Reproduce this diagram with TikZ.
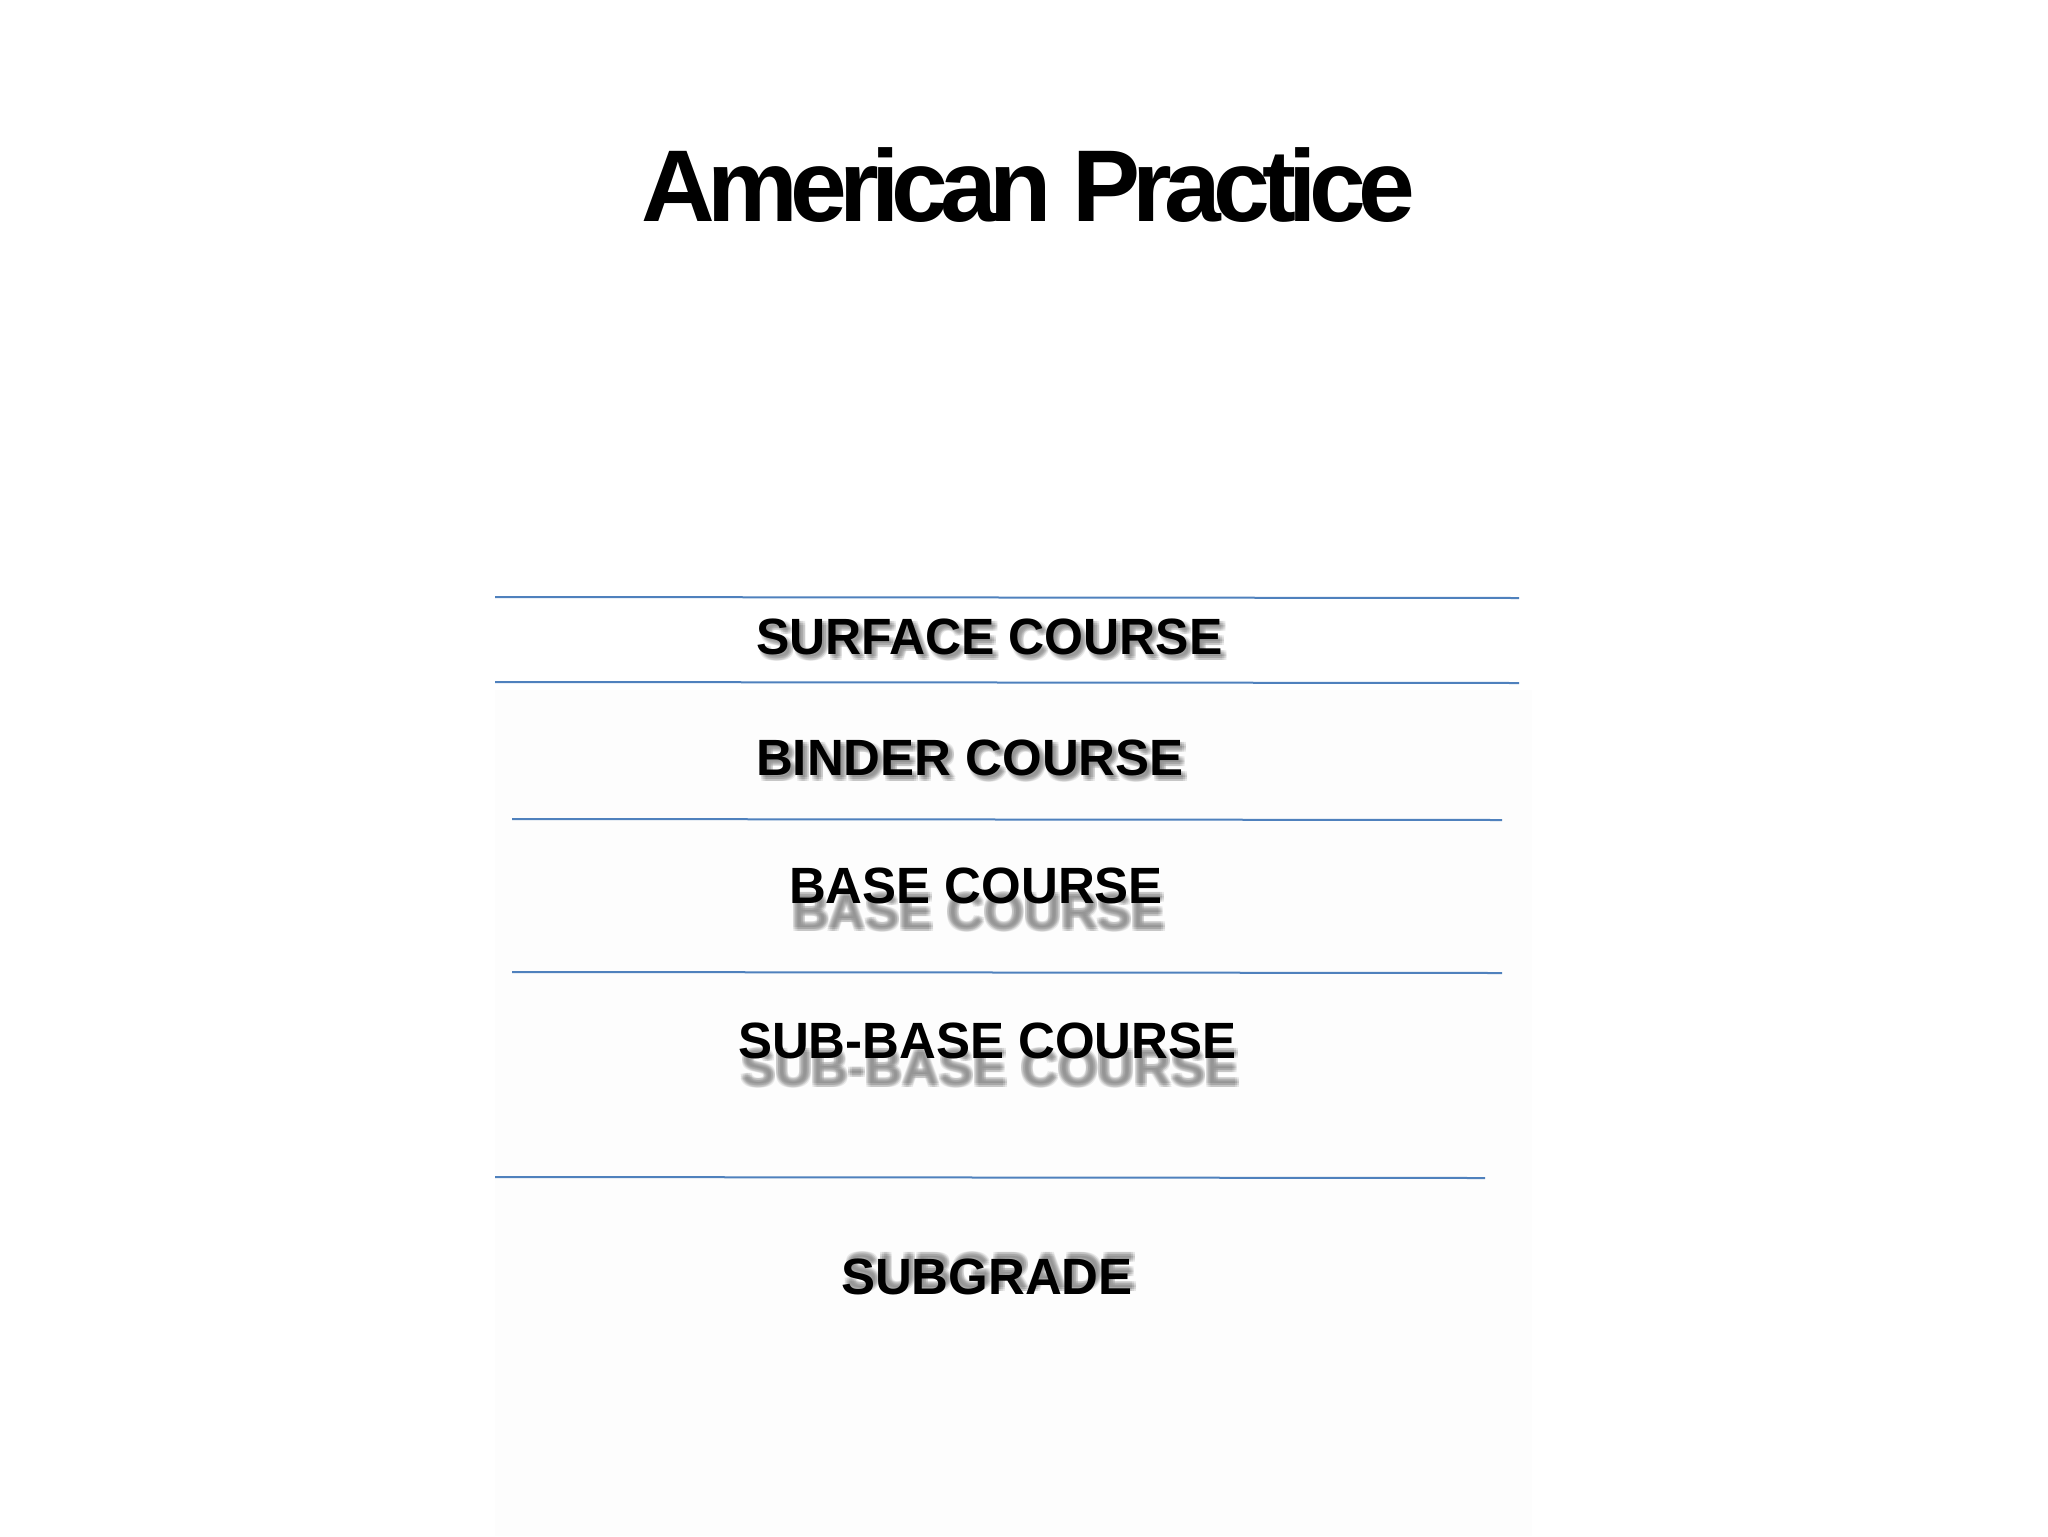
\documentclass[tikz,border=0pt]{standalone}
\usepackage{fontspec}
\setmainfont{Liberation Sans}
\newfontfamily\titlefont{Liberation Sans}[LetterSpace=-7.6]
\definecolor{layerline}{HTML}{4F81BD}
\begin{document}
\begin{tikzpicture}[x=0.5pt,y=-0.5pt,
  lab/.style={inner sep=0pt, outer sep=0pt, anchor=base west,
    font=\fontsize{25.5}{30}\selectfont\bfseries},
  shad/.style={lab, text=black!50, opacity=0.17},
  sep/.style={draw=layerline, line width=1pt}]
\useasboundingbox (0,0) rectangle (2048,1536);
\fill[black!0.8] (495,690) rectangle (1532,1536);
% title
\node[inner sep=0pt, anchor=base west, font=\titlefont\fontsize{51}{60}\selectfont\bfseries] (title) at (641,221) {American Practice};
% separating lines
\coordinate (l1a) at (495,597);  \coordinate (l1b) at (1519,598);
\coordinate (l2a) at (495,682);  \coordinate (l2b) at (1519,683);
\coordinate (l3a) at (512,819);  \coordinate (l3b) at (1502,820);
\coordinate (l4a) at (512,972);  \coordinate (l4b) at (1502,973);
\coordinate (l5a) at (495,1177); \coordinate (l5b) at (1485,1178);
\draw[sep] (l1a) -- (l1b);
\draw[sep] (l2a) -- (l2b);
\draw[sep] (l3a) -- (l3b);
\draw[sep] (l4a) -- (l4b);
\draw[sep] (l5a) -- (l5b);
% shadows
\foreach \dx/\dy [count=\i] in {-2/-2,0/-2,2/-2,-2/0,0/0,2/0,-2/2,0/2,2/2}{
  \node[shad] (ssh\i) at (760+\dx,658+\dy) {\scalebox{0.98}[1]{SURFACE COURSE}};
  \node[shad] (bish\i) at (760+\dx,779+\dy) {BINDER COURSE};
  \node[shad] (bash\i) at (792+\dx,929+\dy) {BASE COURSE};
  \node[shad] (sbsh\i) at (741+\dx,1085+\dy) {SUB-BASE COURSE};
  \node[shad] (sgsh\i) at (845+\dx,1289+\dy) {SUBGRADE};
}
% labels
\node[lab] (surface) at (756,654) {\scalebox{0.98}[1]{SURFACE COURSE}};
\node[lab] (binder) at (756,775) {BINDER COURSE};
\node[lab] (base) at (789,903) {BASE COURSE};
\node[lab] (subbase) at (738,1058) {SUB-BASE COURSE};
\node[lab] (subgrade) at (841,1294) {SUBGRADE};
\end{tikzpicture}
\end{document}
